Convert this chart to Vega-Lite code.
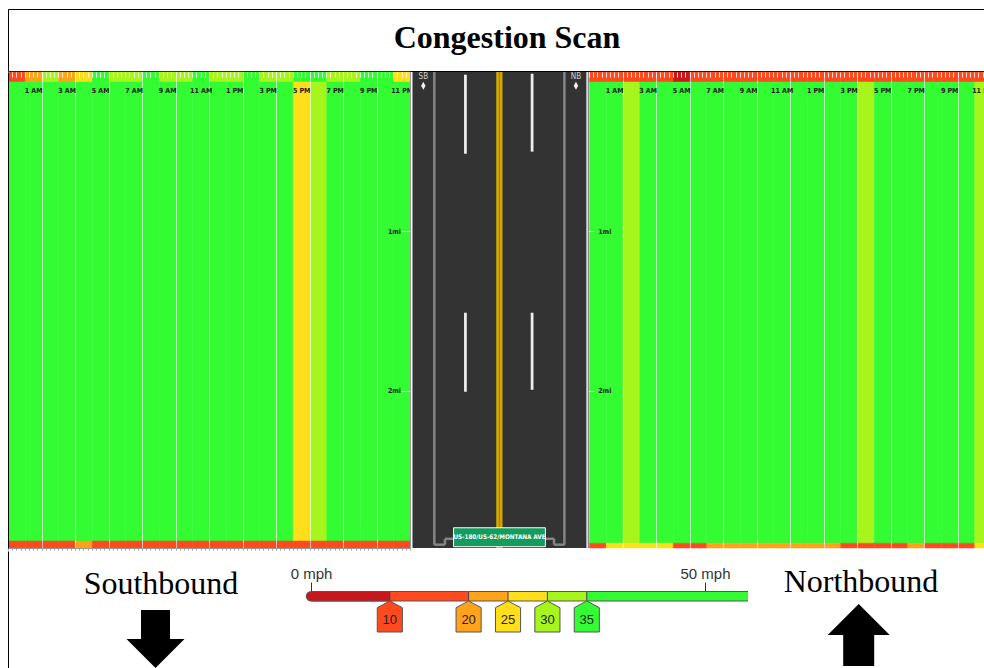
{
  "$schema": "https://vega.github.io/schema/vega-lite/v6.json",
  "background": "white",
  "padding": {"left": 7, "top": 8, "right": 5, "bottom": 5},
  "spacing": -4,
  "datasets": {
    "scan": [
      {"d": "SB", "h": 0, "a": 15, "b": 46, "c": 15},
      {"d": "SB", "h": 1, "a": 22, "b": 47, "c": 14},
      {"d": "SB", "h": 2, "a": 32, "b": 48, "c": 15},
      {"d": "SB", "h": 3, "a": 22, "b": 47, "c": 16},
      {"d": "SB", "h": 4, "a": 27, "b": 46, "c": 22},
      {"d": "SB", "h": 5, "a": 40, "b": 47, "c": 15},
      {"d": "SB", "h": 6, "a": 32, "b": 46, "c": 14},
      {"d": "SB", "h": 7, "a": 33, "b": 45, "c": 15},
      {"d": "SB", "h": 8, "a": 38, "b": 44, "c": 16},
      {"d": "SB", "h": 9, "a": 33, "b": 45, "c": 15},
      {"d": "SB", "h": 10, "a": 32, "b": 44, "c": 14},
      {"d": "SB", "h": 11, "a": 37, "b": 43, "c": 15},
      {"d": "SB", "h": 12, "a": 33, "b": 44, "c": 16},
      {"d": "SB", "h": 13, "a": 34, "b": 43, "c": 15},
      {"d": "SB", "h": 14, "a": 36, "b": 42, "c": 15},
      {"d": "SB", "h": 15, "a": 33, "b": 40, "c": 14},
      {"d": "SB", "h": 16, "a": 32, "b": 38, "c": 15},
      {"d": "SB", "h": 17, "a": 37, "b": 27, "c": 13},
      {"d": "SB", "h": 18, "a": 36, "b": 32, "c": 15},
      {"d": "SB", "h": 19, "a": 33, "b": 40, "c": 16},
      {"d": "SB", "h": 20, "a": 34, "b": 43, "c": 15},
      {"d": "SB", "h": 21, "a": 37, "b": 45, "c": 15},
      {"d": "SB", "h": 22, "a": 38, "b": 46, "c": 14},
      {"d": "SB", "h": 23, "a": 28, "b": 46, "c": 15},
      {"d": "NB", "h": 0, "a": 16, "b": 46, "c": 17},
      {"d": "NB", "h": 1, "a": 15, "b": 47, "c": 27},
      {"d": "NB", "h": 2, "a": 14, "b": 33, "c": 28},
      {"d": "NB", "h": 3, "a": 15, "b": 46, "c": 27},
      {"d": "NB", "h": 4, "a": 16, "b": 45, "c": 26},
      {"d": "NB", "h": 5, "a": 8, "b": 44, "c": 16},
      {"d": "NB", "h": 6, "a": 14, "b": 43, "c": 15},
      {"d": "NB", "h": 7, "a": 15, "b": 42, "c": 22},
      {"d": "NB", "h": 8, "a": 16, "b": 43, "c": 21},
      {"d": "NB", "h": 9, "a": 15, "b": 44, "c": 22},
      {"d": "NB", "h": 10, "a": 14, "b": 44, "c": 23},
      {"d": "NB", "h": 11, "a": 15, "b": 43, "c": 22},
      {"d": "NB", "h": 12, "a": 16, "b": 42, "c": 21},
      {"d": "NB", "h": 13, "a": 15, "b": 41, "c": 22},
      {"d": "NB", "h": 14, "a": 14, "b": 40, "c": 23},
      {"d": "NB", "h": 15, "a": 13, "b": 38, "c": 16},
      {"d": "NB", "h": 16, "a": 14, "b": 33, "c": 15},
      {"d": "NB", "h": 17, "a": 15, "b": 38, "c": 14},
      {"d": "NB", "h": 18, "a": 16, "b": 41, "c": 15},
      {"d": "NB", "h": 19, "a": 15, "b": 43, "c": 21},
      {"d": "NB", "h": 20, "a": 14, "b": 44, "c": 15},
      {"d": "NB", "h": 21, "a": 15, "b": 45, "c": 16},
      {"d": "NB", "h": 22, "a": 16, "b": 46, "c": 15},
      {"d": "NB", "h": 23, "a": 15, "b": 34, "c": 27}
    ],
    "segSB": [
      {"seg": "a", "m0": 0, "m1": 0.063},
      {"seg": "b", "m0": 0.063, "m1": 2.944},
      {"seg": "c", "m0": 2.944, "m1": 2.988}
    ],
    "segNB": [
      {"seg": "a", "m0": 0, "m1": 0.063},
      {"seg": "b", "m0": 0.063, "m1": 2.958},
      {"seg": "c", "m0": 2.958, "m1": 2.988}
    ],
    "road": [
      {"k": "rim", "x": -29.7, "x2": -29.7, "y": 0, "y2": 2.988},
      {"k": "rim2", "x": 29.66, "x2": 29.66, "y": 0, "y2": 2.988},
      {"k": "sh", "x": -22, "x2": -22, "y": 0, "y2": 2.967},
      {"k": "sh", "x": -22, "x2": -18.4, "y": 2.967, "y2": 2.967},
      {"k": "sh", "x": -18.4, "x2": -18.4, "y": 2.967, "y2": 2.93},
      {"k": "sh", "x": -18.4, "x2": -15.5, "y": 2.93, "y2": 2.93},
      {"k": "sh", "x": 21.9, "x2": 21.9, "y": 0, "y2": 2.967},
      {"k": "sh", "x": 21.9, "x2": 18.4, "y": 2.967, "y2": 2.967},
      {"k": "sh", "x": 18.4, "x2": 18.4, "y": 2.967, "y2": 2.93},
      {"k": "sh", "x": 18.4, "x2": 15.5, "y": 2.93, "y2": 2.93},
      {"k": "ln", "x": -11.5, "x2": -11.5, "y": 0.017, "y2": 0.513},
      {"k": "ln", "x": -11.5, "x2": -11.5, "y": 1.511, "y2": 2.007},
      {"k": "ln", "x": 11, "x2": 11, "y": 0.011, "y2": 0.5},
      {"k": "ln", "x": 11, "x2": 11, "y": 1.511, "y2": 1.995},
      {"k": "cl", "x": -0.6, "x2": -0.6, "y": 0, "y2": 2.988},
      {"k": "cl", "x": 0.5, "x2": 0.5, "y": 0, "y2": 2.988}
    ],
    "dirs": [
      {"t": "SB", "x": -25.7, "y": 0.03, "ya": 0.086},
      {"t": "NB", "x": 25.8, "y": 0.03, "ya": 0.086}
    ],
    "sign": [
      {"t": "US-180/US-62/MONTANA AVE", "x": -15.5, "x2": 15.5, "y": 2.861, "y2": 2.98, "xc": 0, "yc": 2.921}
    ],
    "bins": [
      {"lo": 0, "hi": 10},
      {"lo": 10, "hi": 20},
      {"lo": 20, "hi": 25},
      {"lo": 25, "hi": 30},
      {"lo": 30, "hi": 35},
      {"lo": 35, "hi": 55.46}
    ]
  },
  "vconcat": [
    {
      "width": 998,
      "height": 62,
      "view": {"stroke": "black", "strokeWidth": 1},
      "data": {"values": [{"t": "Congestion Scan"}]},
      "mark": {"type": "text", "font": "Liberation Serif", "fontSize": 32, "fontWeight": "bold", "baseline": "alphabetic", "dy": 8, "color": "black"},
      "encoding": {"text": {"field": "t"}}
    },
    {
      "hconcat": [
        {
          "width": 402,
          "height": 476,
          "data": {"name": "scan"},
          "transform": [
            {"filter": "datum.d === 'SB'"},
            {"fold": ["a", "b", "c"], "as": ["seg", "speed"]},
            {"lookup": "seg", "from": {"data": {"name": "segSB"}, "key": "seg", "fields": ["m0", "m1"]}}
          ],
          "layer": [
            {
              "mark": {"type": "rect", "strokeWidth": 0.5},
              "encoding": {
                "x": {"field": "h", "type": "quantitative", "bin": {"binned": true, "step": 1},
                  "scale": {"domain": [0, 24], "nice": false, "zero": false},
                  "axis": {"orient": "top", "title": null, "domain": false,
                    "values": [0,0.25,0.5,0.75,1,1.25,1.5,1.75,2,2.25,2.5,2.75,3,3.25,3.5,3.75,4,4.25,4.5,4.75,5,5.25,5.5,5.75,6,6.25,6.5,6.75,7,7.25,7.5,7.75,8,8.25,8.5,8.75,9,9.25,9.5,9.75,10,10.25,10.5,10.75,11,11.25,11.5,11.75,12,12.25,12.5,12.75,13,13.25,13.5,13.75,14,14.25,14.5,14.75,15,15.25,15.5,15.75,16,16.25,16.5,16.75,17,17.25,17.5,17.75,18,18.25,18.5,18.75,19,19.25,19.5,19.75,20,20.25,20.5,20.75,21,21.25,21.5,21.75,22,22.25,22.5,22.75,23,23.25,23.5,23.75,24],
                    "labelExpr": "(datum.value - 0.5) % 2 === 1 ? ((floor(datum.value) + 11) % 12 + 1) + (datum.value < 12 ? ' AM' : ' PM') : ''",
                    "labelOverlap": false, "labelFlush": false, "labelBound": false,
                    "labelFont": "DejaVu Sans Condensed", "labelFontSize": 7, "labelFontWeight": "bold", "labelColor": "#1a1a1a",
                    "labelBaseline": "middle", "labelAlign": "center", "labelPadding": -13.4,
                    "tickSize": -5, "tickColor": "#ffffff", "tickOpacity": 0.85, "tickWidth": 1,
                    "grid": true, "gridColor": "#ffffff", "gridWidth": 1,
                    "gridOpacity": {"condition": {"test": "datum.value % 2 === 0 && datum.value > 0 && datum.value < 24", "value": 0.65}, "value": 0},
                    "zindex": 1}},
                "y": {"field": "m0", "type": "quantitative",
                  "scale": {"domain": [0, 2.988], "reverse": true, "nice": false, "zero": false},
                  "axis": {"orient": "right", "title": null, "domain": false, "values": [1, 2],
                    "labelExpr": "datum.value + 'mi'", "tickSize": -9, "tickColor": "#ffffff", "tickOpacity": 0.85,
                    "labelAlign": "right", "labelBaseline": "middle", "labelPadding": -0.5,
                    "labelFont": "DejaVu Sans Condensed", "labelFontSize": 7, "labelFontWeight": "bold", "labelColor": "#1a1a1a",
                    "grid": false, "zindex": 1}},
                "y2": {"field": "m1"},
                "color": {"field": "speed", "type": "quantitative", "legend": null,
                  "scale": {"type": "threshold", "domain": [10, 20, 25, 30, 35], "range": ["#c8171c", "#ff4a1f", "#ffa31a", "#ffdf1a", "#a6f51d", "#33fc33"]}},
                "stroke": {"field": "speed", "type": "quantitative", "legend": null,
                  "scale": {"type": "threshold", "domain": [10, 20, 25, 30, 35], "range": ["#c8171c", "#ff4a1f", "#ffa31a", "#ffdf1a", "#a6f51d", "#33fc33"]}}
              }
            },
            {
              "mark": {"type": "rect", "opacity": 0},
              "encoding": {
                "x": {"field": "h", "type": "quantitative", "bin": {"binned": true, "step": 1},
                  "axis": {"orient": "bottom", "title": null, "domain": true, "domainColor": "#9a9a9a",
                    "values": [0,0.25,0.5,0.75,1,1.25,1.5,1.75,2,2.25,2.5,2.75,3,3.25,3.5,3.75,4,4.25,4.5,4.75,5,5.25,5.5,5.75,6,6.25,6.5,6.75,7,7.25,7.5,7.75,8,8.25,8.5,8.75,9,9.25,9.5,9.75,10,10.25,10.5,10.75,11,11.25,11.5,11.75,12,12.25,12.5,12.75,13,13.25,13.5,13.75,14,14.25,14.5,14.75,15,15.25,15.5,15.75,16,16.25,16.5,16.75,17,17.25,17.5,17.75,18,18.25,18.5,18.75,19,19.25,19.5,19.75,20,20.25,20.5,20.75,21,21.25,21.5,21.75,22,22.25,22.5,22.75,23,23.25,23.5,23.75,24],
                    "tickSize": 2, "tickColor": "#9a9a9a", "labels": false, "grid": false, "zindex": 1}},
                "y": {"field": "m0", "type": "quantitative",
                  "axis": {"orient": "left", "title": null, "domain": true, "domainColor": "#000000", "ticks": false, "labels": false, "grid": false, "zindex": 1}},
                "y2": {"field": "m1"}
              }
            }
          ],
          "resolve": {"axis": {"x": "independent", "y": "independent"}}
        },
        {
          "width": 179,
          "height": 476,
          "view": {"fill": "#333333", "stroke": null},
          "layer": [
            {
              "data": {"name": "road"},
              "mark": {"type": "rule"},
              "encoding": {
                "x": {"field": "x", "type": "quantitative", "scale": {"domain": [-30.2, 30.2], "nice": false, "zero": false}, "axis": null},
                "x2": {"field": "x2"},
                "y": {"field": "y", "type": "quantitative", "scale": {"domain": [0, 2.988], "reverse": true, "nice": false, "zero": false}, "axis": null},
                "y2": {"field": "y2"},
                "color": {"field": "k", "type": "nominal", "legend": null,
                  "scale": {"domain": ["rim", "rim2", "sh", "ln", "cl"], "range": ["#ffffff", "#d9d9d9", "#858585", "#eeeeee", "#d2a800"]}},
                "strokeWidth": {"field": "k", "type": "ordinal", "legend": null,
                  "scale": {"domain": ["rim", "rim2", "sh", "ln", "cl"], "range": [2, 3, 1.5, 2, 1.5]}}
              }
            },
            {
              "data": {"name": "dirs"},
              "mark": {"type": "text", "font": "DejaVu Sans Condensed", "fontSize": 8, "color": "#cfcfcf", "baseline": "middle"},
              "encoding": {
                "x": {"field": "x", "type": "quantitative"},
                "y": {"field": "y", "type": "quantitative"},
                "text": {"field": "t"}
              }
            },
            {
              "data": {"name": "dirs"},
              "mark": {"type": "point", "shape": "M0,-1L0.55,0L0,1L-0.55,0Z", "size": 64, "filled": true, "color": "#f2f2f2", "opacity": 1},
              "encoding": {
                "x": {"field": "x", "type": "quantitative"},
                "y": {"field": "ya", "type": "quantitative"}
              }
            },
            {
              "data": {"name": "sign"},
              "mark": {"type": "rect", "fill": "#149c5f", "stroke": "#ffffff", "strokeWidth": 1},
              "encoding": {
                "x": {"field": "x", "type": "quantitative"},
                "x2": {"field": "x2"},
                "y": {"field": "y", "type": "quantitative"},
                "y2": {"field": "y2"}
              }
            },
            {
              "data": {"name": "sign"},
              "mark": {"type": "text", "font": "DejaVu Sans Condensed", "fontSize": 6.3, "fontWeight": "bold", "color": "#ffffff", "baseline": "middle"},
              "encoding": {
                "x": {"field": "xc", "type": "quantitative"},
                "y": {"field": "yc", "type": "quantitative"},
                "text": {"field": "t"}
              }
            }
          ]
        },
        {
          "width": 402,
          "height": 476,
          "data": {"name": "scan"},
          "transform": [
            {"filter": "datum.d === 'NB'"},
            {"fold": ["a", "b", "c"], "as": ["seg", "speed"]},
            {"lookup": "seg", "from": {"data": {"name": "segNB"}, "key": "seg", "fields": ["m0", "m1"]}}
          ],
          "mark": {"type": "rect", "strokeWidth": 0.5},
          "encoding": {
            "x": {"field": "h", "type": "quantitative", "bin": {"binned": true, "step": 1},
              "scale": {"domain": [0, 24], "nice": false, "zero": false},
              "axis": {"orient": "top", "title": null, "domain": false,
                "values": [0,0.25,0.5,0.75,1,1.25,1.5,1.75,2,2.25,2.5,2.75,3,3.25,3.5,3.75,4,4.25,4.5,4.75,5,5.25,5.5,5.75,6,6.25,6.5,6.75,7,7.25,7.5,7.75,8,8.25,8.5,8.75,9,9.25,9.5,9.75,10,10.25,10.5,10.75,11,11.25,11.5,11.75,12,12.25,12.5,12.75,13,13.25,13.5,13.75,14,14.25,14.5,14.75,15,15.25,15.5,15.75,16,16.25,16.5,16.75,17,17.25,17.5,17.75,18,18.25,18.5,18.75,19,19.25,19.5,19.75,20,20.25,20.5,20.75,21,21.25,21.5,21.75,22,22.25,22.5,22.75,23,23.25,23.5,23.75,24],
                "labelExpr": "(datum.value - 0.5) % 2 === 1 ? ((floor(datum.value) + 11) % 12 + 1) + (datum.value < 12 ? ' AM' : ' PM') : ''",
                "labelOverlap": false, "labelFlush": false, "labelBound": false,
                "labelFont": "DejaVu Sans Condensed", "labelFontSize": 7, "labelFontWeight": "bold", "labelColor": "#1a1a1a",
                "labelBaseline": "middle", "labelAlign": "center", "labelPadding": -13.4,
                "tickSize": -5, "tickColor": "#ffffff", "tickOpacity": 0.85, "tickWidth": 1,
                "grid": true, "gridColor": "#ffffff", "gridWidth": 1,
                "gridOpacity": {"condition": {"test": "datum.value % 2 === 0 && datum.value > 0 && datum.value < 24", "value": 0.65}, "value": 0},
                "zindex": 1}},
            "y": {"field": "m0", "type": "quantitative",
              "scale": {"domain": [0, 2.988], "reverse": true, "nice": false, "zero": false},
              "axis": {"orient": "left", "title": null, "domain": false, "values": [1, 2],
                "labelExpr": "datum.value + 'mi'", "tickSize": -5, "tickColor": "#ffffff", "tickOpacity": 0.85,
                "labelAlign": "left", "labelBaseline": "middle", "labelPadding": -3.7,
                "labelFont": "DejaVu Sans Condensed", "labelFontSize": 7, "labelFontWeight": "bold", "labelColor": "#1a1a1a",
                "grid": false, "zindex": 1}},
            "y2": {"field": "m1"},
            "color": {"field": "speed", "type": "quantitative", "legend": null,
              "scale": {"type": "threshold", "domain": [10, 20, 25, 30, 35], "range": ["#c8171c", "#ff4a1f", "#ffa31a", "#ffdf1a", "#a6f51d", "#33fc33"]}},
            "stroke": {"field": "speed", "type": "quantitative", "legend": null,
              "scale": {"type": "threshold", "domain": [10, 20, 25, 30, 35], "range": ["#c8171c", "#ff4a1f", "#ffa31a", "#ffdf1a", "#a6f51d", "#33fc33"]}}
          }
        }
      ],
      "spacing": 0,
      "bounds": "flush"
    },
    {
      "hconcat": [
        {
          "width": 295,
          "height": 125,
          "data": {"values": [{"t": "Southbound"}]},
          "layer": [
            {
              "mark": {"type": "text", "font": "Liberation Serif", "fontSize": 32, "baseline": "alphabetic", "dx": 5.5, "dy": -19.8, "color": "black"},
              "encoding": {"text": {"field": "t"}}
            },
            {
              "mark": {"type": "point", "shape": "M-0.5,-1L0.5,-1L0.5,0L1,0L0,1L-1,0L-0.5,0Z", "size": 3364, "filled": true, "color": "black", "opacity": 1, "yOffset": 25.5},
              "encoding": {
                "y": {"datum": 0, "type": "quantitative", "scale": {"domain": [-1, 1]},
                  "axis": {"orient": "left", "title": null, "domain": true, "domainColor": "#000000", "ticks": false, "labels": false, "grid": false}}
              }
            }
          ]
        },
        {
          "width": 445,
          "height": 125,
          "data": {"name": "bins"},
          "encoding": {
            "x": {"field": "lo", "type": "quantitative",
              "scale": {"domain": [-1.02, 55.46], "nice": false, "zero": false},
              "axis": {"orient": "top", "offset": -41, "title": null, "domain": false, "values": [0, 50],
                "labelExpr": "datum.value + ' mph'", "tickSize": 10, "tickColor": "#333333",
                "labelFont": "Liberation Sans", "labelFontSize": 15, "labelColor": "#333333", "labelPadding": 1,
                "labelFlush": false, "grid": false}}
          },
          "layer": [
            {
              "mark": {"type": "rule", "strokeWidth": 10.5, "color": "#555555", "yOffset": -17.25},
              "encoding": {"x2": {"field": "hi"}}
            },
            {
              "transform": [{"filter": "datum.lo === 0"}],
              "mark": {"type": "rule", "strokeWidth": 10.5, "color": "#555555", "strokeCap": "round", "yOffset": -17.25},
              "encoding": {"x2": {"field": "hi"}}
            },
            {
              "transform": [{"filter": "datum.lo === 0"}],
              "mark": {"type": "rule", "strokeWidth": 8.5, "strokeCap": "round", "yOffset": -17.25},
              "encoding": {
                "x2": {"field": "hi"},
                "color": {"field": "lo", "type": "quantitative", "legend": null,
                  "scale": {"type": "threshold", "domain": [10, 20, 25, 30, 35], "range": ["#c8171c", "#ff4a1f", "#ffa31a", "#ffdf1a", "#a6f51d", "#33fc33"]}}
              }
            },
            {
              "transform": [{"filter": "datum.lo > 0"}],
              "mark": {"type": "rule", "strokeWidth": 8.5, "yOffset": -17.25},
              "encoding": {
                "x2": {"field": "hi"},
                "color": {"field": "lo", "type": "quantitative", "legend": null,
                  "scale": {"type": "threshold", "domain": [10, 20, 25, 30, 35], "range": ["#c8171c", "#ff4a1f", "#ffa31a", "#ffdf1a", "#a6f51d", "#33fc33"]}}
              }
            },
            {
              "transform": [{"filter": "datum.lo > 0"}],
              "mark": {"type": "tick", "color": "#444444", "thickness": 1, "size": 8.5, "yOffset": -17.25, "opacity": 1}
            },
            {
              "transform": [{"filter": "datum.lo > 0"}],
              "mark": {"type": "point", "shape": "M0,-1L0.81,-0.57L0.81,1L-0.81,1L-0.81,-0.57Z", "size": 961, "filled": true, "stroke": "#555555", "strokeWidth": 1, "opacity": 1, "yOffset": 3},
              "encoding": {
                "color": {"field": "lo", "type": "quantitative", "legend": null,
                  "scale": {"type": "threshold", "domain": [10, 20, 25, 30, 35], "range": ["#c8171c", "#ff4a1f", "#ffa31a", "#ffdf1a", "#a6f51d", "#33fc33"]}}
              }
            },
            {
              "transform": [{"filter": "datum.lo > 0"}],
              "mark": {"type": "text", "font": "Liberation Sans", "fontSize": 13, "color": "#222222", "baseline": "middle", "dy": 6.5},
              "encoding": {"text": {"field": "lo", "type": "quantitative"}}
            }
          ]
        },
        {
          "width": 224,
          "height": 125,
          "data": {"values": [{"t": "Northbound"}]},
          "layer": [
            {
              "mark": {"type": "text", "font": "Liberation Serif", "fontSize": 32, "baseline": "alphabetic", "dx": 1, "dy": -21.8, "color": "black"},
              "encoding": {"text": {"field": "t"}}
            },
            {
              "mark": {"type": "point", "shape": "M0,-1L1,0L0.5,0L0.5,1L-0.5,1L-0.5,0L-1,0Z", "size": 3844, "filled": true, "color": "black", "opacity": 1, "xOffset": -1.3, "yOffset": 21.5}
            }
          ]
        }
      ],
      "spacing": 0,
      "bounds": "flush"
    }
  ],
  "config": {
    "view": {"stroke": null}
  }
}
